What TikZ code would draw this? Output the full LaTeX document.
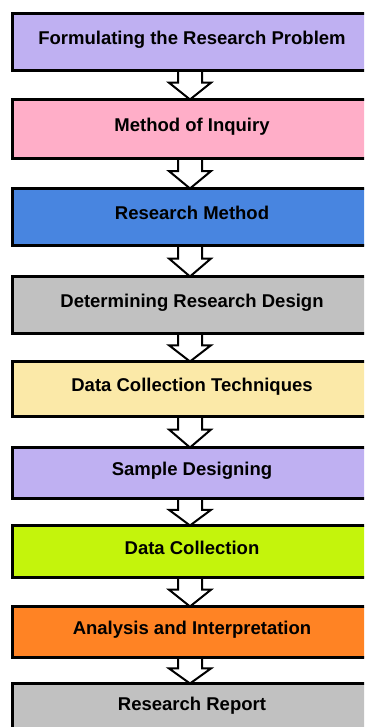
\documentclass[tikz,border=0pt]{standalone}
\usepackage{fontspec}
\setmainfont{Liberation Sans}
\usetikzlibrary{calc}

\definecolor{lavender}{RGB}{191,176,242}
\definecolor{rosepink}{RGB}{255,174,200}
\definecolor{skyblue}{RGB}{72,133,224}
\definecolor{silver}{RGB}{193,193,193}
\definecolor{cream}{RGB}{251,233,168}
\definecolor{lime}{RGB}{196,244,12}
\definecolor{tangerine}{RGB}{255,131,36}

\tikzset{
  stepbox/.style={draw=black, line width=3pt, rectangle, minimum width=359pt,
    inner sep=0pt, outer sep=0pt, text height=0.73em, text depth=0.22em,
    font=\fontsize{18.5}{22}\selectfont\bfseries},
  blockarrow/.style={draw=black, fill=white, line width=2pt, line join=miter,
    to path={($(\tikztostart.south)+(-14,0)$)
      -- ($(\tikztostart.south)!.42!(\tikztotarget.north)+(-14,0)$) -- ++(-9,0)
      -- ($(\tikztotarget.north)+(-2,0)$)
      -- ($(\tikztostart.south)!.42!(\tikztotarget.north)+(19,0)$) -- ++(-9,0)
      -- ($(\tikztostart.south)+(10,0)$) -- cycle}}
}

\begin{document}
\begin{tikzpicture}[x=1pt, y=-1pt]
  \fill[white] (0,0) rectangle (364,727);
  \useasboundingbox (0,0) rectangle (364,727);
  \clip (0,0) rectangle (364,727);
  \node[stepbox, fill=lavender, minimum height=57pt] (b1) at (192,42) {Formulating the Research Problem};
  \node[stepbox, fill=rosepink, minimum height=59pt] (b2) at (192,129) {Method of Inquiry};
  \node[stepbox, fill=skyblue, minimum height=57pt] (b3) at (192,217) {Research Method};
  \node[stepbox, fill=silver, minimum height=57pt] (b4) at (192,305) {Determining Research Design};
  \node[stepbox, fill=cream, minimum height=55pt] (b5) at (192,389) {Data Collection Techniques};
  \node[stepbox, fill=lavender, minimum height=51pt] (b6) at (192,473) {Sample Designing};
  \node[stepbox, fill=lime, minimum height=52pt] (b7) at (192,551.5) {Data Collection};
  \node[stepbox, fill=tangerine, minimum height=51pt] (b8) at (192,632) {Analysis and Interpretation};
  \node[stepbox, fill=silver, minimum height=49pt] (b9) at (192,708) {Research Report};
  \begin{scope}[blockarrow]
    \draw (b1) to (b2);
    \draw (b2) to (b3);
    \draw (b3) to (b4);
    \draw (b4) to (b5);
    \draw (b5) to (b6);
    \draw (b6) to (b7);
    \draw (b7) to (b8);
    \draw (b8) to (b9);
  \end{scope}
\end{tikzpicture}
\end{document}
